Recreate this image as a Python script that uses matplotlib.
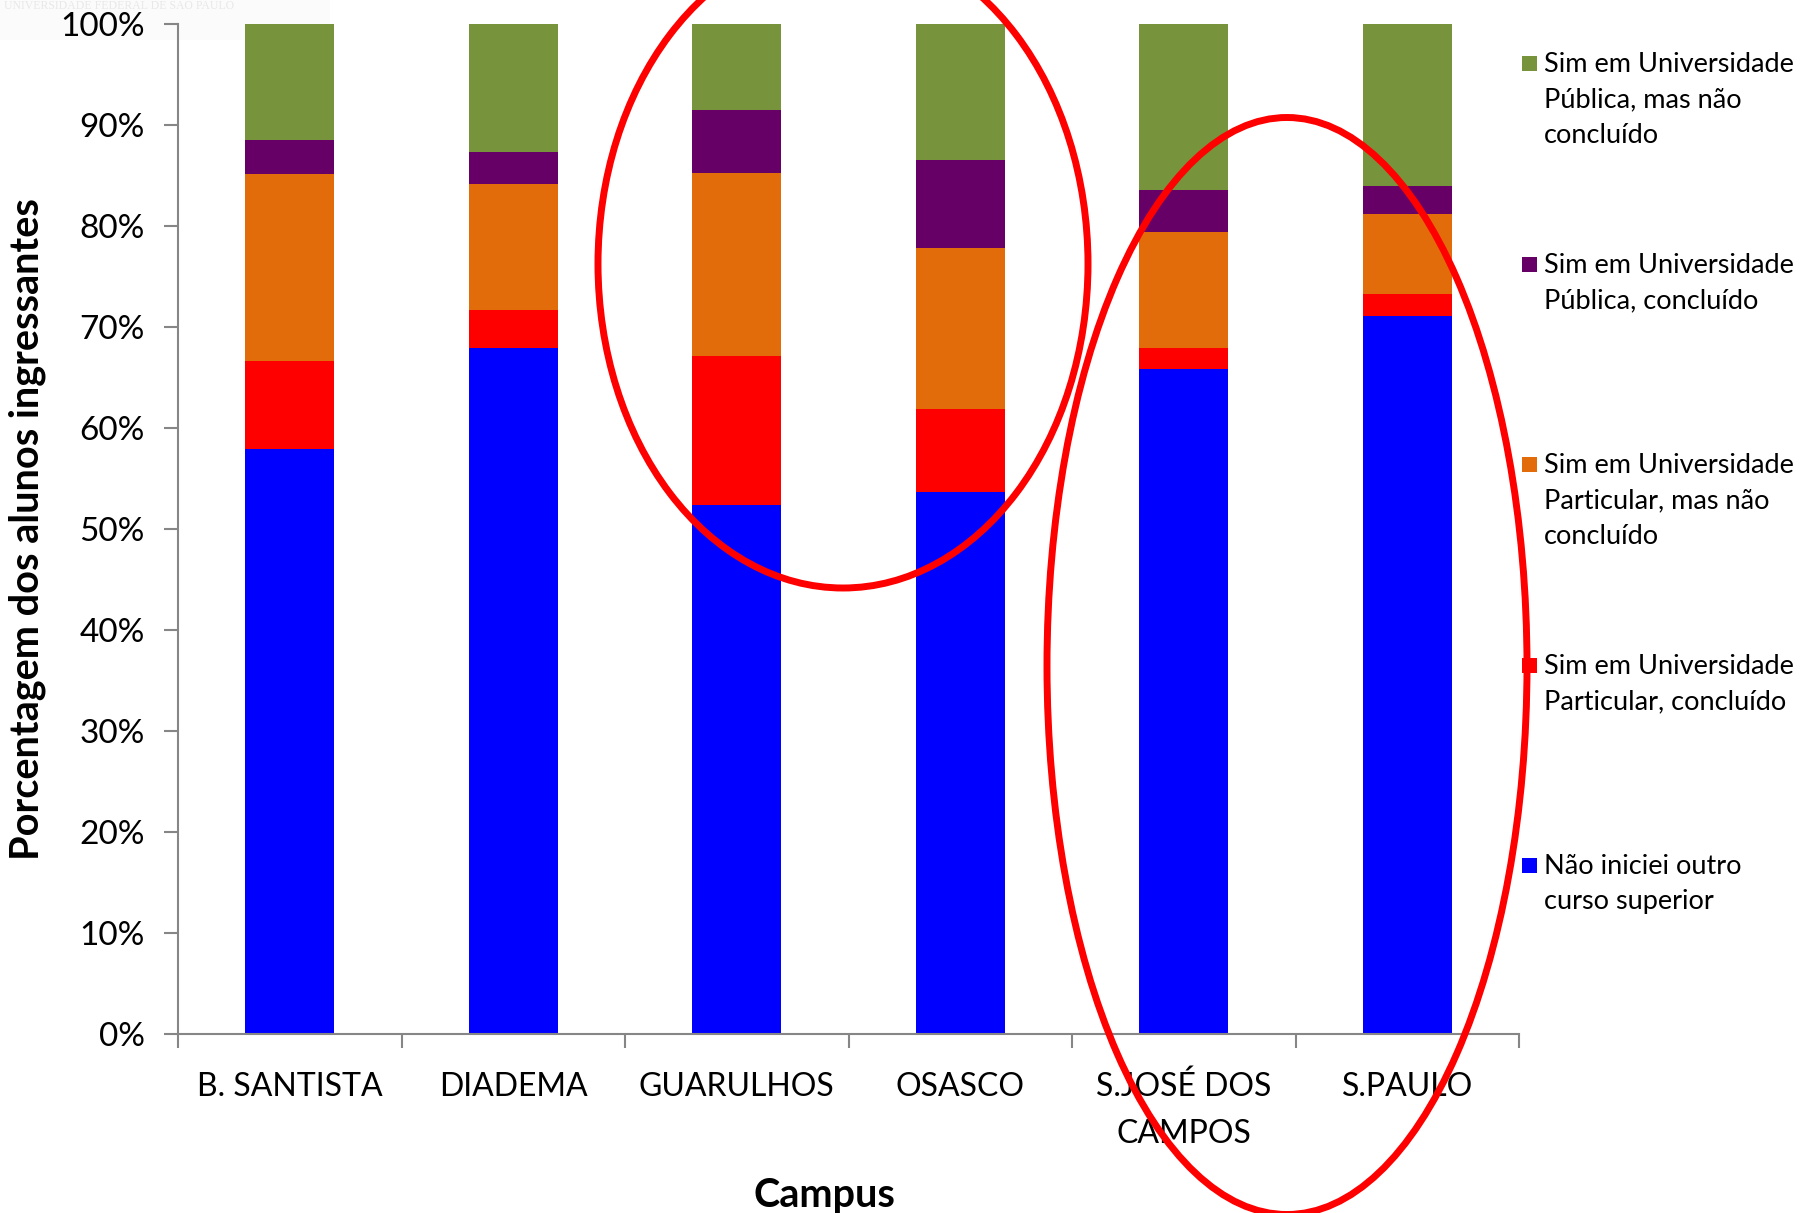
import matplotlib
matplotlib.use("Agg")
import matplotlib.pyplot as plt
from matplotlib.patches import Ellipse, Rectangle
import numpy as np

plt.rcParams['font.family'] = ['Lato', 'DejaVu Sans']

campi = ["B. SANTISTA", "DIADEMA", "GUARULHOS", "OSASCO", "S.JOSÉ DOS\nCAMPOS", "S.PAULO"]
nao_iniciei = [57.9, 67.9, 52.4, 53.7, 65.8, 71.1]
part_concluido = [8.7, 3.8, 14.7, 8.2, 2.1, 2.2]
part_nao_concluido = [18.5, 12.5, 18.1, 15.9, 11.5, 7.9]
pub_concluido = [3.4, 3.1, 6.3, 8.7, 4.2, 2.8]
pub_nao_concluido = [11.5, 12.7, 8.5, 13.5, 16.4, 16.0]

series = [nao_iniciei, part_concluido, part_nao_concluido, pub_concluido, pub_nao_concluido]
labels = ["Não iniciei outro\ncurso superior",
          "Sim em Universidade\nParticular, concluído",
          "Sim em Universidade\nParticular, mas não\nconcluído",
          "Sim em Universidade\nPública, concluído",
          "Sim em Universidade\nPública, mas não\nconcluído"]
colors = ["#0000FF", "#FF0000", "#E36C0A", "#660066", "#77933C"]
yticks = [0, 10, 20, 30, 40, 50, 60, 70, 80, 90, 100]

W, H = 1800, 1213
fig = plt.figure(figsize=(18, 12.13), dpi=100)

# faint watermark (behind everything)
fig.patches.append(Rectangle((0, 1 - 40 / H), 330 / W, 40 / H, transform=fig.transFigure,
                             facecolor='#fbfbfb', edgecolor='none', zorder=-5))
fig.text(4 / W, 1 - 9 / H, "UNIVERSIDADE FEDERAL DE SÃO PAULO", fontsize=8.5,
         family='Liberation Serif', color='#e8e8e8', ha='left', va='baseline', zorder=-4)

ax = fig.add_axes([178 / W, 1 - 1034 / H, (1519 - 178) / W, (1034 - 24) / H])
ax.patch.set_alpha(0)

x = np.arange(len(campi))
bottom = np.zeros(len(campi))
for vals, col in zip(series, colors):
    ax.bar(x, vals, width=0.4, bottom=bottom, color=col, edgecolor='none', zorder=2)
    bottom += np.array(vals)

ax.set_xlim(-0.5, len(campi) - 0.5)
ax.set_ylim(0, 100)
ax.set_yticks(yticks)
ax.set_yticklabels([f"{v}%" for v in yticks], fontsize=24)
ax.set_xticks(x)
ax.set_xticklabels(campi, fontsize=23, linespacing=1.7)
ax.set_xticks(np.arange(-0.5, len(campi), 1.0), minor=True)
ax.tick_params(axis='x', which='major', length=0, pad=27)
ax.tick_params(axis='x', which='minor', length=10, width=1.5, color='#868686', direction='out')
ax.tick_params(axis='y', length=10, width=1.5, color='#868686', direction='out', pad=14)
for s in ['top', 'right']:
    ax.spines[s].set_visible(False)
for s in ['left', 'bottom']:
    ax.spines[s].set_color('#868686')
    ax.spines[s].set_linewidth(1.5)

ax.set_ylabel("Porcentagem dos alunos ingressantes", fontsize=28.5, fontweight='bold', labelpad=10)
fig.text(824 / W, 1 - 1195 / H, "Campus", fontsize=28.5, fontweight='bold', ha='center', va='center')

# legend (manual, top to bottom reverse of stack)
leg_y = [63, 264, 464, 665, 865]
for i, (lab, col) in enumerate(zip(labels[::-1], colors[::-1])):
    yy = leg_y[i]
    fig.patches.append(Rectangle((1522 / W, 1 - (yy + 8) / H), 15 / W, 15 / H,
                                 transform=fig.transFigure, facecolor=col, edgecolor='none'))
    fig.text(1544 / W, 1 - (yy - 11) / H, lab, fontsize=19.5, ha='left', va='top', linespacing=1.52)

# red annotation ellipses
for (cx, cy, ew, eh) in [(843, 264, 490, 648), (1287, 666, 480, 1097)]:
    e = Ellipse((cx / W, 1 - cy / H), ew / W, eh / H, transform=fig.transFigure,
                fill=False, edgecolor='#FF0000', linewidth=5, zorder=10)
    fig.patches.append(e)

fig.savefig("out.png", dpi=100)
